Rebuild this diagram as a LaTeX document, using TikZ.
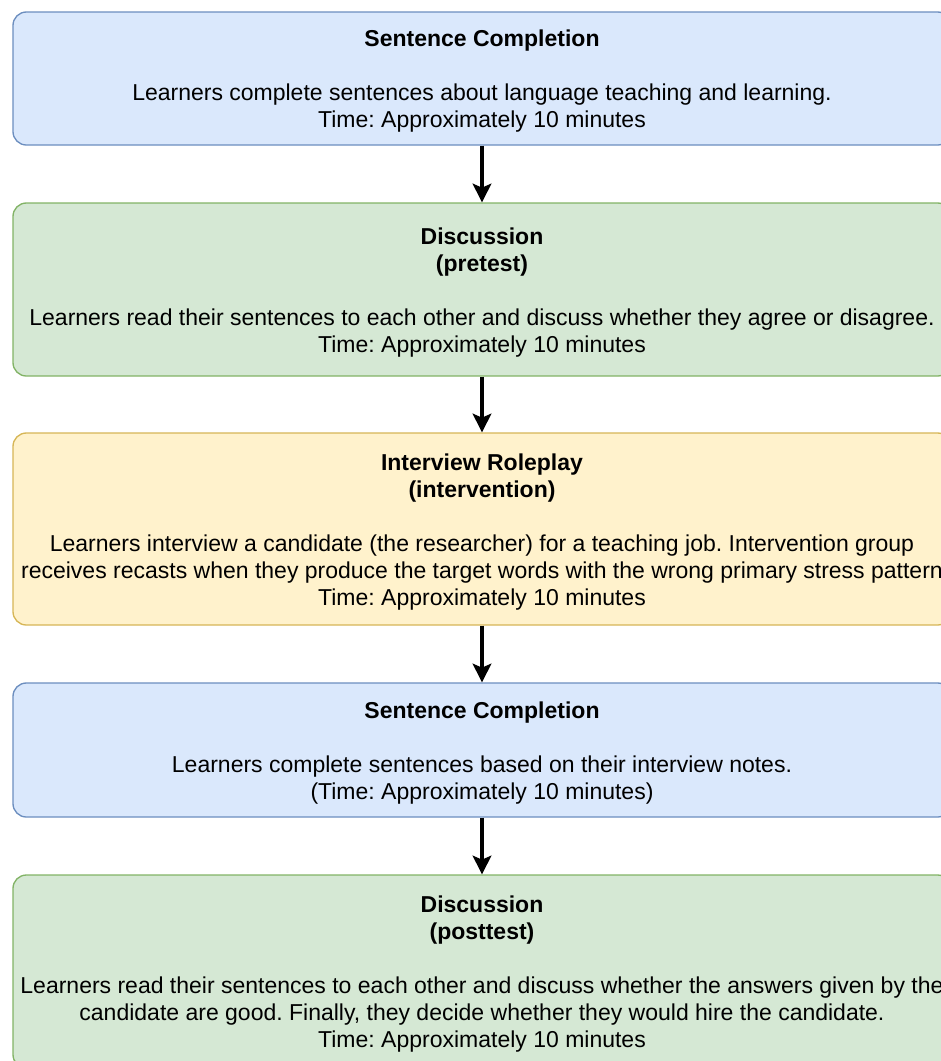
\documentclass[tikz,border=0pt]{standalone}
\usepackage{fontspec}
\setmainfont{Liberation Sans}
\usetikzlibrary{arrows.meta}
\definecolor{blueF}{HTML}{DAE8FC}
\definecolor{blueD}{HTML}{6C8EBF}
\definecolor{greenF}{HTML}{D5E8D4}
\definecolor{greenD}{HTML}{82B366}
\definecolor{yellowF}{HTML}{FFF2CC}
\definecolor{yellowD}{HTML}{D6B656}
\frenchspacing
\begin{document}
\begin{tikzpicture}[x=0.75pt,y=-0.75pt,
  box/.style={draw, rounded corners=10pt, line width=1pt, minimum width=703.5pt, inner sep=0pt},
  bluebox/.style={box, fill=blueF, draw=blueD},
  greenbox/.style={box, fill=greenF, draw=greenD},
  yellowbox/.style={box, fill=yellowF, draw=yellowD},
  txt/.style={inner sep=0pt, align=center, font=\fontsize{17.25}{20.25}\selectfont},
  flow/.style={-{Stealth[length=14pt,width=14pt,inset=3pt]}, line width=2.5pt}]
\useasboundingbox (0,0) rectangle (941,1061);
\clip (0,0) rectangle (941,1061);
\node[bluebox, minimum height=99.75pt] (s1) at (482,78.5) {};
\node[txt] (s1t) at (482,81.5)
  {\textbf{Sentence Completion}\\[20.25pt]
   Learners complete sentences about language teaching and learning.\\
   Time: Approximately 10 minutes};
\node[greenbox, minimum height=129.75pt] (d1) at (482,289.5) {};
\node[txt] (d1t) at (482,292.5)
  {\textbf{Discussion}\\\textbf{(pretest)}\\[20.25pt]
   Learners read their sentences to each other and discuss whether they agree or disagree.\\
   Time: Approximately 10 minutes};
\node[yellowbox, minimum height=144pt] (ir) at (482,529) {};
\node[txt] (irt) at (482,532)
  {\textbf{Interview Roleplay}\\\textbf{(intervention)}\\[20.25pt]
   Learners interview a candidate (the researcher) for a teaching job. Intervention group\\
   receives recasts when they produce the target words with the wrong primary stress pattern\\
   Time: Approximately 10 minutes};
\node[bluebox, minimum height=100.5pt] (s2) at (482,750) {};
\node[txt] (s2t) at (482,753)
  {\textbf{Sentence Completion}\\[20.25pt]
   Learners complete sentences based on their interview notes.\\
   (Time: Approximately 10 minutes)};
\node[greenbox, minimum height=144.75pt] (d2) at (482,971.5) {};
\node[txt] (d2t) at (482,974.5)
  {\textbf{Discussion}\\\textbf{(posttest)}\\[20.25pt]
   Learners read their sentences to each other and discuss whether the answers given by the\\
   candidate are good. Finally, they decide whether they would hire the candidate.\\
   Time: Approximately 10 minutes};
\draw[flow] (s1) -- (d1);
\draw[flow] (d1) -- (ir);
\draw[flow] (ir) -- (s2);
\draw[flow] (s2) -- (d2);
\end{tikzpicture}
\end{document}
